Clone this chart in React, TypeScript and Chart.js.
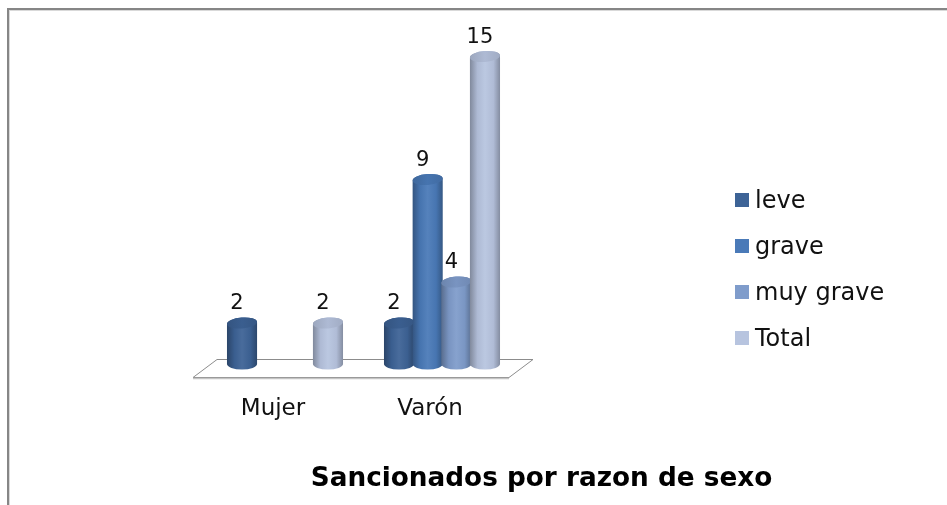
import React, { useEffect, useRef } from "react";
import { Chart, registerables } from "chart.js";

Chart.register(...registerables);

const categories = ["Mujer", "Varón"];
const leve = [2, 2];
const grave = [null, 9];
const muyGrave = [null, 4];
const total = [2, 15];
const seriesNames = ["leve", "grave", "muy grave", "Total"];
const seriesColors = ["#3D6396", "#4A7AB8", "#7F9CCB", "#B7C4DF"];
const titleText = "Sancionados por razon de sexo";

const FONT = "'DejaVu Sans', Verdana, sans-serif";

function hexToRgb(h: string) {
  const n = parseInt(h.slice(1), 16);
  return [(n >> 16) & 255, (n >> 8) & 255, n & 255];
}
function shade(h: string, f: number) {
  const [r, g, b] = hexToRgb(h);
  const fn = (v: number) =>
    Math.max(0, Math.min(255, Math.round(f >= 1 ? v + (255 - v) * (f - 1) : v * f)));
  return `rgb(${fn(r)},${fn(g)},${fn(b)})`;
}

function drawCylinder(ctx: CanvasRenderingContext2D, cx: number, w: number, top: number, base: number, color: string) {
  const rx = w / 2;
  const ry = 5.5;
  const l = cx - rx;
  const r = cx + rx;
  const grad = ctx.createLinearGradient(l, 0, r, 0);
  grad.addColorStop(0, shade(color, 0.7));
  grad.addColorStop(0.25, shade(color, 0.95));
  grad.addColorStop(0.5, shade(color, 1.06));
  grad.addColorStop(0.78, shade(color, 0.96));
  grad.addColorStop(1, shade(color, 0.72));
  ctx.save();
  ctx.beginPath();
  ctx.moveTo(l, top);
  ctx.lineTo(l, base);
  ctx.ellipse(cx, base, rx, ry, 0, Math.PI, 0, true);
  ctx.lineTo(r, top);
  ctx.ellipse(cx, top, rx, ry, -0.08, 0, Math.PI, true);
  ctx.closePath();
  ctx.fillStyle = grad;
  ctx.fill();
  ctx.beginPath();
  ctx.ellipse(cx, top, rx, ry, -0.08, 0, Math.PI * 2);
  const tg = ctx.createLinearGradient(l, 0, r, 0);
  tg.addColorStop(0, shade(color, 0.85));
  tg.addColorStop(0.5, shade(color, 0.95));
  tg.addColorStop(1, shade(color, 0.88));
  ctx.fillStyle = tg;
  ctx.fill();
  ctx.restore();
}

const cylPlugin = {
  id: "cyl3d",
  beforeDatasetDraw() {
    return false;
  },
  beforeDatasetsDraw(chart: any) {
    const ctx: CanvasRenderingContext2D = chart.ctx;
    const area = chart.chartArea;
    const yBase = chart.scales.y.getPixelForValue(0);
    ctx.save();
    // outer border
    ctx.fillStyle = "#868686";
    ctx.fillRect(7, 8, 2, 505);
    ctx.fillRect(7, 8, 960, 2);
    ctx.fillStyle = "#d9d9d9";
    ctx.fillRect(9, 10, 1, 505);
    ctx.fillRect(9, 10, 960, 1);
    // floor
    const backY = yBase - 5;
    const frontY = yBase + 13;
    ctx.beginPath();
    ctx.moveTo(area.left + 10.5, backY + 0.5);
    ctx.lineTo(area.right + 12.5, backY + 0.5);
    ctx.lineTo(area.right - 11.5, frontY + 0.5);
    ctx.lineTo(area.left - 13.5, frontY + 0.5);
    ctx.closePath();
    ctx.fillStyle = "#ffffff";
    ctx.fill();
    ctx.strokeStyle = "#8c8c8c";
    ctx.lineWidth = 1;
    ctx.stroke();
    ctx.beginPath();
    ctx.moveTo(area.left - 13.5, frontY + 1.5);
    ctx.lineTo(area.right - 11.5, frontY + 1.5);
    ctx.strokeStyle = "#c4c4c4";
    ctx.lineWidth = 1.5;
    ctx.stroke();
    ctx.restore();
  },
  afterDatasetsDraw(chart: any) {
    const ctx: CanvasRenderingContext2D = chart.ctx;
    const xScale = chart.scales.x;
    ctx.save();
    // cylinders
    const nCat = chart.data.labels.length;
    for (let i = 0; i < nCat; i++) {
      chart.data.datasets.forEach((ds: any, di: number) => {
        const v = ds.data[i];
        if (v === null || v === undefined) return;
        const el = chart.getDatasetMeta(di).data[i];
        drawCylinder(ctx, el.x, el.width * 1.05, el.y, el.base, seriesColors[di]);
      });
    }
    // data labels
    ctx.fillStyle = "#111111";
    ctx.font = `21px ${FONT}`;
    ctx.textAlign = "center";
    ctx.textBaseline = "alphabetic";
    chart.data.datasets.forEach((ds: any, di: number) => {
      chart.getDatasetMeta(di).data.forEach((el: any, i: number) => {
        const v = ds.data[i];
        if (v === null || v === undefined) return;
        ctx.fillText(String(v), el.x - 5, el.y - 14);
      });
    });
    // category labels
    ctx.font = `23px ${FONT}`;
    chart.data.labels.forEach((lab: string, i: number) => {
      ctx.fillText(lab, xScale.getPixelForValue(i) - 12, 415);
    });
    // legend
    ctx.textAlign = "left";
    ctx.font = `24px ${FONT}`;
    chart.data.datasets.forEach((ds: any, di: number) => {
      const cy = 200 + di * 46;
      ctx.fillStyle = seriesColors[di];
      ctx.fillRect(735, cy - 7, 14, 14);
      ctx.fillStyle = "#111111";
      ctx.fillText(ds.label, 755, cy + 8);
    });
    // title
    ctx.textAlign = "center";
    ctx.font = `bold 26.3px ${FONT}`;
    ctx.fillStyle = "#000000";
    ctx.fillText(titleText, 541.5, 486);
    ctx.restore();
  },
};

export default function App() {
  const ref = useRef<HTMLCanvasElement | null>(null);
  useEffect(() => {
    if (!ref.current) return;
    const seriesData = [leve, grave, muyGrave, total];
    const chart = new Chart(ref.current, {
      type: "bar",
      data: {
        labels: categories,
        datasets: seriesNames.map((name, i) => ({
          label: name,
          data: seriesData[i] as any,
          backgroundColor: seriesColors[i],
          categoryPercentage: 0.73,
          barPercentage: 1.0,
        })),
      },
      options: {
        responsive: false,
        animation: false,
        devicePixelRatio: 1,
        layout: { padding: { left: 206.5, right: 426.5, top: 56.5, bottom: 141 } },
        scales: {
          x: { display: false },
          y: { display: false, min: 0, max: 15 },
        },
        plugins: {
          legend: { display: false },
          tooltip: { enabled: false },
          title: { display: false },
        },
      },
      plugins: [cylPlugin],
    });
    return () => chart.destroy();
  }, []);
  return (
    <div style={{ position: "absolute", left: 0, top: 0, width: 947, height: 505, background: "#fff" }}>
      <canvas ref={ref} width={947} height={505} style={{ display: "block" }} />
    </div>
  );
}
